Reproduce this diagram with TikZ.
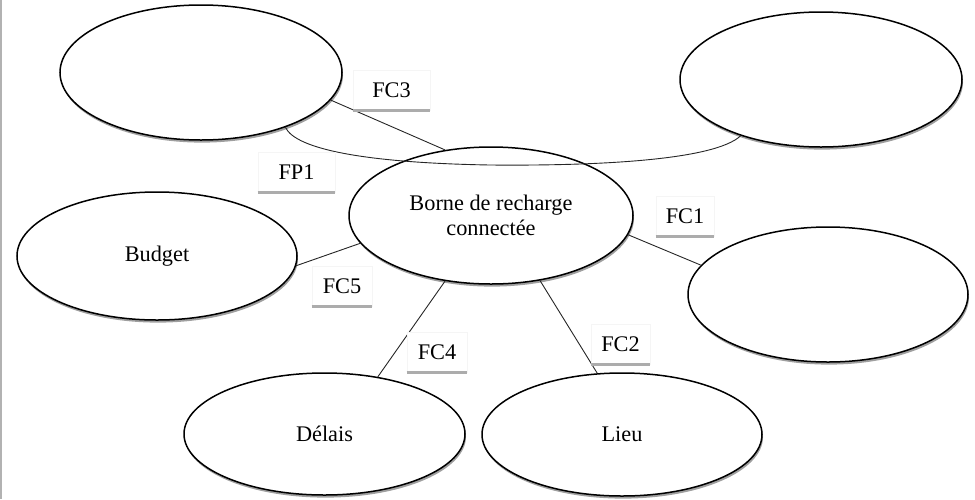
\documentclass[tikz,border=0pt]{standalone}
\usepackage{fontspec}
\setmainfont{Liberation Serif}
\usetikzlibrary{shapes.geometric,shadows}
\begin{document}
\begin{tikzpicture}[x=1pt,y=-1pt,
  oval/.style={ellipse, draw=black, line width=1.5pt, fill=white, inner sep=0pt,
    drop shadow={shadow xshift=1pt, shadow yshift=-2.6pt, fill=gray!75, opacity=1},
    font=\fontsize{22.3}{25.5}\selectfont, align=center},
  link/.style={draw=black!85, line width=0.9pt},
  lbl/.style={draw=gray!8, line width=0.6pt, fill=white, minimum width=#1,
    minimum height=40pt, inner sep=0pt, font=\fontsize{22.3}{25.5}\selectfont,
    append after command={(\tikzlastnode.south west) edge[draw=gray!65, line width=3pt] (\tikzlastnode.south east)}},
  frame/.style={draw=gray!60, line width=2pt}
]
\useasboundingbox (0,0) rectangle (975,499);
\draw[frame] (1,0) -- (1,499);

\node[oval, minimum width=282pt, minimum height=135pt] (TL) at (201,72.5) {};
\node[oval, minimum width=282pt, minimum height=135pt] (TR) at (821,79.5) {};
\node[oval, minimum width=284pt, minimum height=137pt] (C) at (491,215.5) {Borne de recharge\\connectée};
\node[oval, minimum width=280pt, minimum height=128pt] (B) at (157,256) {Budget};
\node[oval, minimum width=280pt, minimum height=135pt] (R) at (828,294.5) {};
\node[oval, minimum width=281pt, minimum height=122pt] (D) at (324.5,434) {Délais};
\node[oval, minimum width=280pt, minimum height=123pt] (L) at (622,434.5) {Lieu};

\draw[link] (TL.-12.8) -- (C.125.3);
\draw[link] (C.-8.2) -- (R.167.5);
\draw[link] (B.-4.1) -- (C.192.2);
\draw[link] (C.235.5) -- (D.47.6);
\draw[link] (C.-53.6) -- (L.112.3);
\draw[link] (TL.-33.8) .. controls (296,150) and (370,163) .. (490,165)
  .. controls (600,166) and (715,160) .. (TR.-145.1);

\node[lbl=77pt] (fc3) at (391.5,90) {FC3};
\node[lbl=77pt] (fp1) at (296.5,172.5) {FP1};
\node[lbl=58pt] (fc1) at (685,216) {FC1};
\node[lbl=60pt] (fc5) at (342,286) {FC5};
\node[lbl=60pt] (fc4) at (437,352) {FC4};
\node[lbl=59pt] (fc2) at (620.5,344) {FC2};
\end{tikzpicture}
\end{document}
